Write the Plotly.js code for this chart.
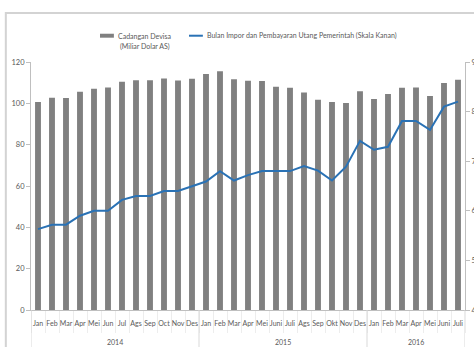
<!DOCTYPE html>
<html>
<head>
<meta charset="utf-8">
<script src="https://cdn.plot.ly/plotly-3.0.1.min.js"></script>
<style>
  html, body { margin: 0; padding: 0; background: #ffffff; }
  #chart { width: 474px; height: 347px; }
</style>
</head>
<body>
<div id="chart"></div>
<script>
// Cadangan devisa Indonesia (miliar dolar AS) dan kecukupan bulan impor
const years = ['2014', '2015', '2016'];
const monthsPerYear = [12, 12, 7];
const months = [
  'Jan', 'Feb', 'Mar', 'Apr', 'Mei', 'Jun', 'Jul', 'Ags', 'Sep', 'Oct', 'Nov', 'Des',
  'Jan', 'Feb', 'Mar', 'Apr', 'Mei', 'Juni', 'Juli', 'Ags', 'Sep', 'Okt', 'Nov', 'Des',
  'Jan', 'Feb', 'Mar', 'Apr', 'Mei', 'Juni', 'Juli'
];
const reserves = [
  100.7, 102.7, 102.6, 105.6, 107.0, 107.7, 110.5, 111.2, 111.2, 112.0, 111.1, 111.9,
  114.2, 115.5, 111.6, 110.9, 110.8, 108.0, 107.6, 105.3, 101.7, 100.7, 100.2, 105.9,
  102.1, 104.5, 107.5, 107.7, 103.6, 109.8, 111.4
];
const importMonths = [
  5.63, 5.72, 5.72, 5.90, 6.00, 6.00, 6.22, 6.30, 6.30, 6.40, 6.40, 6.50,
  6.59, 6.80, 6.61, 6.72, 6.80, 6.80, 6.80, 6.90, 6.81, 6.61, 6.89, 7.41,
  7.23, 7.29, 7.81, 7.81, 7.63, 8.10, 8.20
];
const barName = 'Cadangan Devisa';
const barUnit = '(Miliar Dolar AS)';
const lineName = 'Bulan Impor dan Pembayaran Utang Pemerintah (Skala Kanan)';

// one slot per month along the x axis
const idx = months.map((_, i) => i);

const FONT = 'Lato, "Open Sans", sans-serif';
const TXT = '#595959';
const AXIS = '#bfbfbf';
const BAR = '#808080';
const LINE = '#2a72b5';

const traces = [
  {
    type: 'bar', name: barName, x: idx, y: reserves, text: months,
    marker: { color: BAR }, yaxis: 'y', hoverinfo: 'text+y', textposition: 'none'
  },
  {
    type: 'scatter', mode: 'lines', name: lineName, x: idx, y: importMonths,
    line: { color: LINE, width: 2 }, yaxis: 'y2', hoverinfo: 'y'
  }
];

// year group boundaries, year labels centred under each group
const shapes = [];
const annotations = [];
let start = 0;
const bounds = [-0.5];
years.forEach((yr, i) => {
  const end = start + monthsPerYear[i];
  bounds.push(end - 0.5);
  annotations.push({
    xref: 'x', yref: 'paper', x: (start + end - 1) / 2, y: -0.129,
    xanchor: 'center', yanchor: 'middle', text: yr, showarrow: false,
    font: { family: FONT, size: 7, color: TXT }
  });
  start = end;
});
bounds.forEach(b => shapes.push({
  type: 'line', xref: 'x', yref: 'paper', x0: b, x1: b, y0: 0, y1: -0.2,
  line: { color: '#d9d9d9', width: 1 }
}));

// frame round the chart
shapes.push({
  type: 'rect', xref: 'paper', yref: 'paper', x0: -0.058, x1: 1.1, y0: -0.3, y1: 1.198,
  line: { color: '#d3d3d3', width: 2 }, fillcolor: 'rgba(0,0,0,0)', layer: 'below'
});
// legend swatches and labels
shapes.push({
  type: 'rect', xref: 'paper', yref: 'paper', x0: 0.159, x1: 0.191, y0: 1.098, y1: 1.114,
  line: { width: 0 }, fillcolor: BAR
});
shapes.push({
  type: 'line', xref: 'paper', yref: 'paper', x0: 0.364, x1: 0.396, y0: 1.106, y1: 1.106,
  line: { color: LINE, width: 2 }
});
annotations.push(
  { xref: 'paper', yref: 'paper', x: 0.196, y: 1.106, xanchor: 'left', yanchor: 'middle',
    text: barName, showarrow: false, font: { family: FONT, size: 7, color: TXT } },
  { xref: 'paper', yref: 'paper', x: 0.201, y: 1.062, xanchor: 'left', yanchor: 'middle',
    text: barUnit, showarrow: false, font: { family: FONT, size: 7, color: TXT } },
  { xref: 'paper', yref: 'paper', x: 0.401, y: 1.106, xanchor: 'left', yanchor: 'middle',
    text: lineName, showarrow: false, font: { family: FONT, size: 7, color: TXT } }
);

const layout = {
  width: 474, height: 347,
  margin: { l: 31, r: 9, t: 62, b: 37 },
  paper_bgcolor: '#ffffff', plot_bgcolor: 'rgba(0,0,0,0)',
  font: { family: FONT, size: 7, color: TXT },
  showlegend: false,
  bargap: 0.58,
  xaxis: {
    type: 'linear', range: [-0.5, months.length - 0.5],
    tickmode: 'array', tickvals: idx, ticktext: months, tickangle: 0,
    ticks: 'outside', ticklen: 7, tickcolor: 'rgba(0,0,0,0)',
    minor: { ticks: 'outside', tick0: -0.5, dtick: 1, ticklen: 22, tickcolor: '#ededed', showgrid: false },
    showline: true, linecolor: AXIS, linewidth: 1,
    tickfont: { family: FONT, size: 7, color: TXT },
    showgrid: false, zeroline: false
  },
  yaxis: {
    range: [0, 120], dtick: 20,
    showline: true, linecolor: AXIS, linewidth: 1,
    ticks: 'outside', ticklen: 4, tickcolor: AXIS,
    showgrid: false, zeroline: false,
    tickfont: { family: FONT, size: 7.5, color: TXT }
  },
  yaxis2: {
    range: [4, 9], dtick: 1, overlaying: 'y', side: 'right',
    showline: true, linecolor: AXIS, linewidth: 1,
    ticks: 'outside', ticklen: 4, tickcolor: AXIS,
    showgrid: false, zeroline: false,
    tickfont: { family: FONT, size: 7.5, color: TXT }
  },
  shapes: shapes,
  annotations: annotations
};

Plotly.newPlot('chart', traces, layout, { displayModeBar: false, staticPlot: true });
</script>
</body>
</html>
